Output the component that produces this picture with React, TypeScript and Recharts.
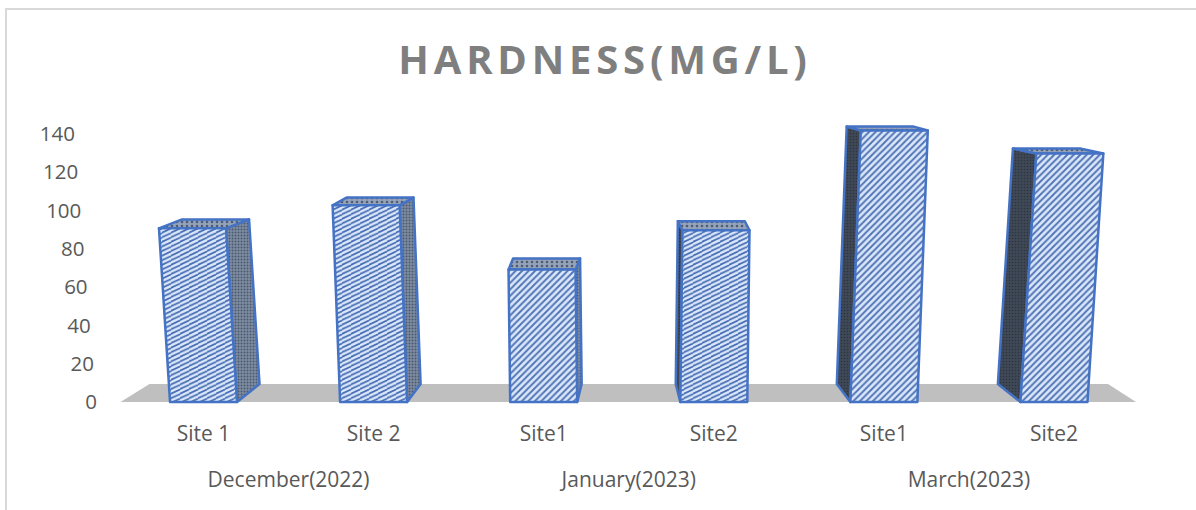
import React from "react";
import { BarChart, Bar, XAxis, YAxis, ReferenceArea } from "recharts";

const sites = ["Site 1", "Site 2", "Site1", "Site2", "Site1", "Site2"];
const periods = ["December(2022)", "December(2022)", "January(2023)", "January(2023)", "March(2023)", "March(2023)"];
const hardness = [90.5, 102.5, 69, 89.5, 141.5, 129.5];
const yTicks = [0, 20, 40, 60, 80, 100, 120, 140];
const frontFills = ["frontShallow", "frontShallow", "frontSteep", "frontShallow", "frontSteep", "frontSteep"];

const rows = sites.map((site, i) => ({ key: i, site, period: periods[i], hardness: hardness[i] }));

const W = 1196;
const H = 510;
const PLOT_LEFT = 118.5;
const PLOT_RIGHT = 1139;
const BASE_Y = 402;
const CENTER_X = 628;
const LEAN = 1.5e-4;
const DEPTH_X = 0.053;
const DEPTH_Y = 18;
const BACK_SCALE = 0.948;
const BLUE = "#4472c4";
const FONT = "'Open Sans', sans-serif";
const X_AXIS_1 = 48;
const X_AXIS_2 = 60;
const Y_AXIS = 40;

const pts = (p: number[][]) => p.map((q) => q.join(",")).join(" ");

function Box3D(props: any) {
  const { x, y, width, height, index } = props;
  const mid = x + width / 2;
  const lean = (mid - CENTER_X) * height * LEAN;
  const dx = -(mid - CENTER_X) * DEPTH_X;
  const fbl = [x, y + height];
  const fbr = [x + width, y + height];
  const ftl = [x + lean, y];
  const ftr = [x + width + lean, y];
  const bh = height * BACK_SCALE;
  const by = y + height - DEPTH_Y;
  const bl = x + dx;
  const backLean = (mid - CENTER_X) * bh * LEAN;
  const bbl = [bl, by];
  const bbr = [bl + width, by];
  const btl = [bl + backLean, by - bh];
  const btr = [bl + width + backLean, by - bh];
  const side = dx > 0 ? [ftr, btr, bbr, fbr] : [ftl, btl, bbl, fbl];
  const sideFill = dx > 0 ? "url(#sideLight)" : "url(#sideDark)";
  return (
    <g key={index} stroke={BLUE} strokeWidth={2.5} strokeLinejoin="round">
      <polygon points={pts(side)} fill={sideFill} />
      <polygon points={pts([ftl, btl, btr, ftr])} fill="url(#topFace)" />
      <polygon points={pts([fbl, ftl, ftr, fbr])} fill={`url(#${frontFills[index]})`} />
    </g>
  );
}

function Floor(props: any) {
  const { x, width } = props;
  return <polygon points={pts([[x + 2, BASE_Y], [x + 31, BASE_Y - DEPTH_Y], [x + width - 31, BASE_Y - DEPTH_Y], [x + width - 3, BASE_Y]])} fill="#bfbfbf" />;
}

function PeriodTick(props: any) {
  const { x, index, payload } = props;
  if (index % 2 !== 0) return <g />;
  return (
    <text x={x + (PLOT_RIGHT - PLOT_LEFT) / 12} y={481} textAnchor="middle" dominantBaseline="middle" fontFamily={FONT} fontSize={21} fill="#595959">
      {payload.value}
    </text>
  );
}

function ValueTick(props: any) {
  const { y, payload } = props;
  return (
    <text x={97 - 0.157 * payload.value} y={y + 2} textAnchor="end" dominantBaseline="middle" fontFamily={FONT} fontSize={20.5} fill="#595959">
      {payload.value}
    </text>
  );
}

export default function App() {
  return (
    <div style={{ position: "absolute", left: 0, top: 0, width: W, height: H, background: "#fff", overflow: "hidden" }}>
      <div style={{ position: "absolute", left: 5, top: 8, width: 1300, height: 600, border: "2px solid #d9d9d9", boxSizing: "border-box" }} />
      <div style={{ position: "absolute", left: 0, width: 1210, top: 31, textAlign: "center", fontFamily: FONT, fontWeight: 700, fontSize: 40, letterSpacing: 4.8, color: "#7f7f7f", lineHeight: "56px" }}>
        HARDNESS(MG/L)
      </div>
      <BarChart
        width={W}
        height={H}
        data={rows}
        margin={{ top: 95, right: W - PLOT_RIGHT, bottom: H - BASE_Y - X_AXIS_1 - X_AXIS_2, left: PLOT_LEFT - Y_AXIS }}
        barCategoryGap="30.3%"
        style={{ position: "absolute", left: 0, top: 0 }}
      >
        <defs>
          <pattern id="frontShallow" patternUnits="userSpaceOnUse" width="9" height="4.6">
            <rect width="9" height="4.6" fill="#dbe8fb" />
            <path d="M-1 3.1 L9 -1.5 M-1 7.7 L9 3.1" stroke="#466cb3" strokeWidth="1.7" />
          </pattern>
          <pattern id="frontSteep" patternUnits="userSpaceOnUse" width="6.5" height="6.5">
            <rect width="6.5" height="6.5" fill="#dbe8fb" />
            <path d="M-1 7.5 L7.5 -1 M-3 3 L3 -3 M3.5 9.5 L9.5 3.5" stroke="#5174b5" strokeWidth="1.9" />
          </pattern>
          <pattern id="sideLight" patternUnits="userSpaceOnUse" width="3" height="3">
            <rect width="3" height="3" fill="#7f8da3" />
            <circle cx="1.5" cy="1.5" r="1" fill="#4b5a70" />
          </pattern>
          <pattern id="sideDark" patternUnits="userSpaceOnUse" width="3" height="3">
            <rect width="3" height="3" fill="#3f4856" />
            <circle cx="1.5" cy="1.5" r="0.8" fill="#2d3440" />
          </pattern>
          <pattern id="topFace" patternUnits="userSpaceOnUse" width="5" height="4">
            <rect width="5" height="4" fill="#95a3ba" />
            <circle cx="2" cy="2" r="1.3" fill="#4e5c74" />
          </pattern>
        </defs>
        <XAxis xAxisId={0} dataKey="key" tickFormatter={(_: any, i: number) => sites[i]} axisLine={false} tickLine={false} tickMargin={18} interval={0}
          tick={{ fontFamily: FONT, fontSize: 21, fill: "#595959" }} height={X_AXIS_1} />
        <XAxis xAxisId={1} dataKey="key" axisLine={false} tickLine={false} interval={0} height={X_AXIS_2}
          tick={(p: any) => <PeriodTick {...p} payload={{ value: periods[p.index] }} />} />
        <YAxis domain={[0, 160]} ticks={yTicks} axisLine={false} tickLine={false} width={Y_AXIS} interval={0} tick={(p: any) => <ValueTick {...p} />} />
        <ReferenceArea xAxisId={0} y1={0} y2={10} shape={<Floor />} ifOverflow="visible" />
        <Bar dataKey="hardness" xAxisId={0} isAnimationActive={false} shape={<Box3D />} />
      </BarChart>
    </div>
  );
}
